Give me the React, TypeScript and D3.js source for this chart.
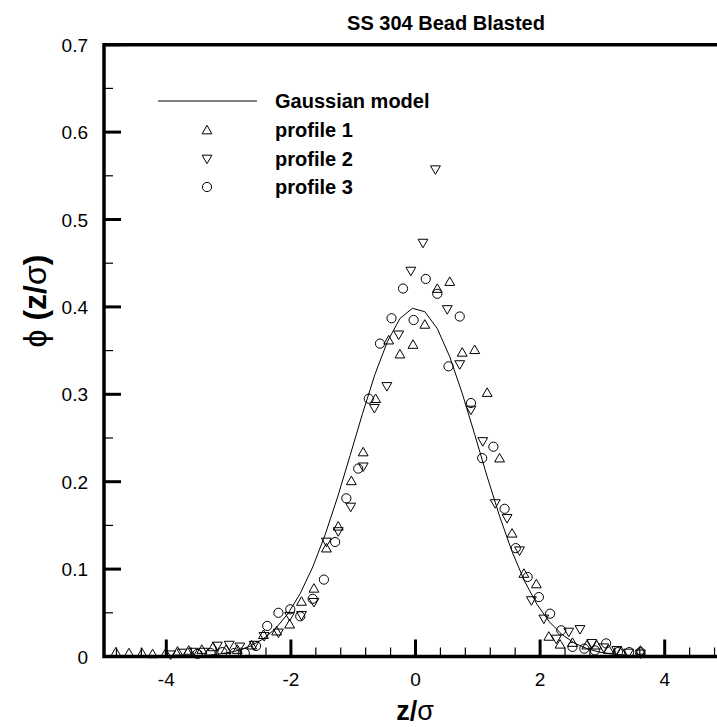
import React from "react";
import * as d3 from "d3";

const W = 717;
const H = 727;

const titleText = "SS 304 Bead Blasted";
const xLabelMain = "z/";
const sigma = "σ";
const phiSym = "ϕ";

const xMajorTicks = [-4, -2, 0, 2, 4];
const xMinorTicks = [-4.8, -4.4, -3.6, -3.2, -2.8, -2.4, -1.6, -1.2, -0.8, -0.4, 0.4, 0.8, 1.2, 1.6, 2.4, 2.8, 3.2, 3.6, 4.4, 4.8];
const yMajorTicks = [0, 0.1, 0.2, 0.3, 0.4, 0.5, 0.6, 0.7];
const yMinorTicks = [0.05, 0.15, 0.25, 0.35, 0.45, 0.55, 0.65];
const yTickLabels = ["0", "0.1", "0.2", "0.3", "0.4", "0.5", "0.6", "0.7"];

const legendLabels = ["Gaussian model", "profile 1", "profile 2", "profile 3"];

// Gaussian model curve nodes
const gaussZ = [
  -4.85, -4.65, -4.45, -4.25, -4.05, -3.85, -3.65, -3.45, -3.25, -3.05, -2.85, -2.65, -2.45,
  -2.25, -2.05, -1.85, -1.65, -1.45, -1.25, -1.05, -0.85, -0.65, -0.45, -0.25, -0.05,
  0.15, 0.35, 0.55, 0.75, 0.95, 1.15, 1.35, 1.55, 1.75, 1.95, 2.15, 2.35, 2.55, 2.75, 2.95,
  3.15, 3.35, 3.55, 3.75, 3.95, 4.15, 4.35, 4.55, 4.75, 4.95,
];
const gaussPhi = [
  0, 0, 0, 0, 0.0001, 0.0002, 0.0005, 0.001, 0.002, 0.0038, 0.0069, 0.0119, 0.0198,
  0.0317, 0.0488, 0.0721, 0.1023, 0.1394, 0.1826, 0.2299, 0.278, 0.323, 0.3605, 0.3867, 0.3984,
  0.3945, 0.3752, 0.3429, 0.3011, 0.2541, 0.2059, 0.1604, 0.12, 0.0863, 0.0596, 0.0396, 0.0252,
  0.0154, 0.0091, 0.0051, 0.0028, 0.0015, 0.0007, 0.0004, 0.0002, 0.0001, 0, 0, 0, 0,
];

// profile 1 (up triangles)
const p1Z = [
  -4.81, -4.6, -4.39, -4.22, -4.01, -3.82, -3.64, -3.43, -3.25, -3.04, -2.86, -2.63, -2.44,
  -2.23, -2.02, -1.83, -1.63, -1.43, -1.24, -1.03, -0.84, -0.64, -0.43, -0.25, -0.04, 0.15,
  0.35, 0.55, 0.75, 0.95, 1.15, 1.35, 1.55, 1.74, 1.94, 2.14, 2.32, 2.52, 2.75, 2.91, 3.1,
  3.3, 3.61,
];
const p1Phi = [
  0.005, 0.004, 0.004, 0.003, 0.004, 0.006, 0.007, 0.008, 0.011, 0.008, 0.008, 0.013, 0.025,
  0.029, 0.037, 0.063, 0.078, 0.124, 0.149, 0.201, 0.234, 0.295, 0.362, 0.346, 0.357, 0.38,
  0.421, 0.429, 0.348, 0.351, 0.302, 0.227, 0.141, 0.095, 0.083, 0.023, 0.014, 0.016, 0.013,
  0.013, 0.008, 0.006, 0.007,
];

// profile 2 (down triangles)
const p2Z = [
  -3.93, -3.75, -3.57, -3.4, -3.18, -2.99, -2.82, -2.59, -2.43, -2.2, -2.02, -1.83, -1.63,
  -1.43, -1.24, -1.04, -0.84, -0.66, -0.46, -0.27, -0.075, 0.12, 0.32, 0.51, 0.71, 0.89,
  1.08, 1.28, 1.47, 1.67, 1.86, 2.06, 2.26, 2.46, 2.64, 2.83, 3.02, 3.23, 3.42, 3.61,
];
const p2Phi = [
  0.002, 0.004, 0.005, 0.005, 0.012, 0.013, 0.011, 0.013, 0.023, 0.027, 0.046, 0.047, 0.062,
  0.131, 0.143, 0.171, 0.217, 0.284, 0.309, 0.368, 0.441, 0.473, 0.557, 0.397, 0.334, 0.282,
  0.246, 0.175, 0.158, 0.121, 0.064, 0.043, 0.02, 0.028, 0.031, 0.015, 0.01, 0.007, 0.004,
  0.003,
];

// profile 3 (circles)
const p3Z = [
  -3.5, -3.29, -3.1, -2.91, -2.74, -2.56, -2.38, -2.2, -2.01, -1.85, -1.65, -1.47, -1.29,
  -1.11, -0.92, -0.75, -0.57, -0.385, -0.2, -0.03, 0.165, 0.35, 0.53, 0.71, 0.89, 1.07, 1.25,
  1.43, 1.61, 1.8, 1.98, 2.16, 2.34, 2.52, 2.71, 2.88, 3.06, 3.25, 3.43, 3.61,
];
const p3Phi = [
  0.003, 0.004, 0.005, 0.004, 0.004, 0.012, 0.035, 0.05, 0.054, 0.046, 0.066, 0.088, 0.131,
  0.181, 0.215, 0.295, 0.358, 0.387, 0.421, 0.385, 0.432, 0.415, 0.332, 0.389, 0.29, 0.227,
  0.24, 0.169, 0.124, 0.091, 0.068, 0.049, 0.03, 0.011, 0.009, 0.007, 0.015, 0.005, 0.005,
  0.005,
];

const FONT = "'Liberation Sans', Arial, Helvetica, sans-serif";

export default function App() {
  const left = 104;
  const right = 727;
  const top = 44.7;
  const bottom = 656.5;
  const x = d3.scaleLinear().domain([-5, 5]).range([left, right]);
  const y = d3.scaleLinear().domain([0, 0.7]).range([bottom, top]);

  const gaussData = gaussZ.map((z, i) => [z, gaussPhi[i]] as [number, number]);
  const line = d3
    .line<[number, number]>()
    .x((d) => x(d[0]))
    .y((d) => y(d[1]));

  const triSize = 42;
  const triUp = d3.symbol().type(d3.symbolTriangle).size(triSize)()!;
  const circR = 4.6;

  const marker = (kind: number, cx: number, cy: number, key: string) => {
    if (kind === 0)
      return <path key={key} d={triUp} transform={`translate(${cx},${cy + 1})`} fill="none" stroke="#000" strokeWidth={1} />;
    if (kind === 1)
      return <path key={key} d={triUp} transform={`translate(${cx},${cy - 1}) rotate(180)`} fill="none" stroke="#000" strokeWidth={1} />;
    return <circle key={key} cx={cx} cy={cy} r={circR} fill="none" stroke="#000" strokeWidth={1} />;
  };

  const series = [
    { z: p1Z, v: p1Phi, kind: 0 },
    { z: p2Z, v: p2Phi, kind: 1 },
    { z: p3Z, v: p3Phi, kind: 2 },
  ];

  const legY = [101, 130, 159, 187];

  return (
    <svg width={W} height={H} style={{ position: "absolute", left: 0, top: 0, background: "#fff" }} fontFamily={FONT}>
      <rect x={0} y={0} width={W} height={H} fill="#fff" />
      <defs>
        <clipPath id="plotclip">
          <rect x={left} y={top - 10} width={right - left} height={bottom - top + 20} />
        </clipPath>
      </defs>

      {/* Title */}
      <text x={446} y={30} textAnchor="middle" fontWeight="bold" fontSize={20}>
        {titleText}
      </text>

      {/* data */}
      <g clipPath="url(#plotclip)">
        <path d={line(gaussData)!} fill="none" stroke="#000" strokeWidth={1} />
        {series.map((s, si) =>
          s.z.map((z, i) => marker(s.kind, x(z), y(s.v[i]), `m${si}-${i}`))
        )}
      </g>

      {/* ticks as filled rects */}
      <g fill="#000">
        {xMinorTicks.map((v, i) => (
          <rect key={`xm${i}`} x={x(v) - 0.6} y={bottom - 9} width={1.2} height={9} />
        ))}
        {yMinorTicks.map((v, i) => (
          <rect key={`ym${i}`} x={left} y={y(v) - 0.6} width={9} height={1.2} />
        ))}
        {xMajorTicks.map((v, i) => (
          <rect key={`xM${i}`} x={x(v) - 1.5} y={bottom - 17} width={3} height={17} />
        ))}
        {yMajorTicks.map((v, i) => (
          <rect key={`yM${i}`} x={left} y={y(v) - 1.5} width={17} height={3} />
        ))}
      </g>

      {/* axes frame */}
      <path
        d={`M${W},${top}H${left}V${bottom}H${W}`}
        fill="none"
        stroke="#000"
        strokeWidth={3.5}
        strokeLinejoin="miter"
      />

      {/* tick labels */}
      {xMajorTicks.map((v, i) => (
        <text key={`xl${i}`} x={x(v)} y={bottom + 29} textAnchor="middle" fontSize={19}>
          {v}
        </text>
      ))}
      {yMajorTicks.map((v, i) => (
        <text key={`yl${i}`} x={left - 16} y={y(v) + 7} textAnchor="end" fontSize={19}>
          {yTickLabels[i]}
        </text>
      ))}

      {/* axis titles */}
      <text x={415} y={720} textAnchor="middle" fontSize={27} fontWeight="bold">
        <tspan>{xLabelMain}</tspan>
        <tspan fontWeight="normal">{sigma}</tspan>
      </text>
      <text transform={`translate(46,301) rotate(-90)`} textAnchor="middle" fontSize={32} fontWeight="bold">
        <tspan fontWeight="normal">{phiSym}</tspan>
        <tspan> (z/</tspan>
        <tspan fontWeight="normal">{sigma}</tspan>
        <tspan>)</tspan>
      </text>

      {/* legend */}
      <line x1={158} x2={257} y1={legY[0]} y2={legY[0]} stroke="#000" strokeWidth={1} />
      {[0, 1, 2].map((k) => marker(k, 207, legY[k + 1], `leg${k}`))}
      {legendLabels.map((t, i) => (
        <text key={`lt${i}`} x={275} y={legY[i] + 7} fontSize={20} fontWeight="bold">
          {t}
        </text>
      ))}
    </svg>
  );
}
